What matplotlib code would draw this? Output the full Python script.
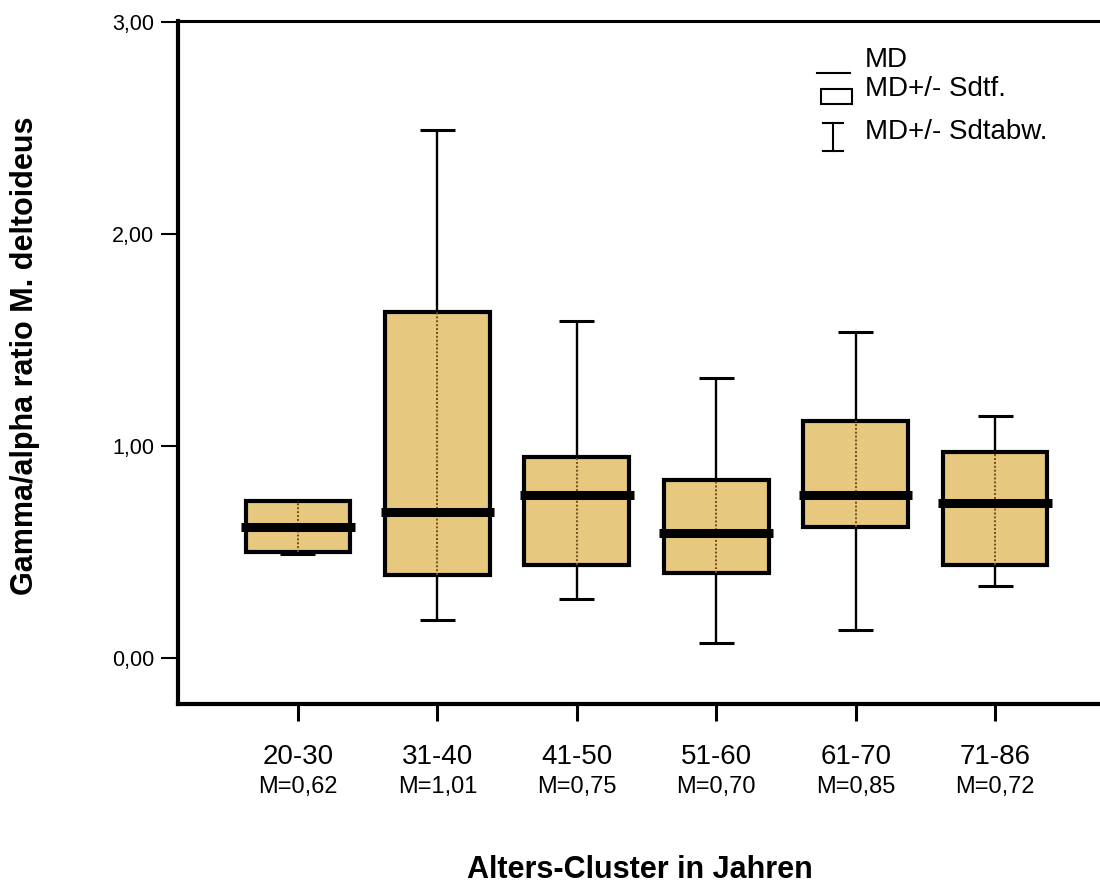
import matplotlib
matplotlib.use("Agg")
import matplotlib.pyplot as plt
from matplotlib.patches import Rectangle
from matplotlib.lines import Line2D

# ---------------- data ----------------
categories = ["20-30", "31-40", "41-50", "51-60", "61-70", "71-86"]
mean_labels = ["M=0,62", "M=1,01", "M=0,75", "M=0,70", "M=0,85", "M=0,72"]
center_line = [0.62, 0.69, 0.77, 0.59, 0.77, 0.73]      # MD
box_low = [0.50, 0.39, 0.44, 0.40, 0.62, 0.44]          # MD - Sdtf.
box_high = [0.74, 1.63, 0.95, 0.84, 1.12, 0.97]         # MD + Sdtf.
whisker_low = [0.49, 0.18, 0.28, 0.07, 0.13, 0.34]      # MD - Sdtabw.
whisker_high = [0.74, 2.49, 1.59, 1.32, 1.54, 1.14]     # MD + Sdtabw.
y_ticks = [0.0, 1.0, 2.0, 3.0]
y_tick_labels = ["0,00", "1,00", "2,00", "3,00"]
legend_labels = ["MD", "MD+/- Sdtf.", "MD+/- Sdtabw."]
x_label = "Alters-Cluster in Jahren"
y_label = "Gamma/alpha ratio M. deltoideus"

# ---------------- style ----------------
plt.rcParams["font.family"] = ["Liberation Sans", "DejaVu Sans"]
W, H = 1100, 883
fig = plt.figure(figsize=(W / 100, H / 100), dpi=100)
fig.patch.set_facecolor("white")

ax_l, ax_r, ax_t, ax_b = 178, 1115, 20.5, 704
ax = fig.add_axes([ax_l / W, 1 - ax_b / H, (ax_r - ax_l) / W, (ax_b - ax_t) / H])
ax.set_xlim(-0.86, 5.86)
ax.set_ylim(-0.217, 3.007)

fill_col = "#E6C87F"
dot_col = "#7A4A1C"
box_w = 0.75
med_w = 0.815
cap_w = 0.25

for i in range(len(categories)):
    ax.vlines(i, whisker_low[i], whisker_high[i], color="black", lw=1.7, zorder=1)
    ax.hlines([whisker_low[i], whisker_high[i]], i - cap_w / 2, i + cap_w / 2,
              color="black", lw=2.2, zorder=1)
    ax.add_patch(Rectangle((i - box_w / 2, box_low[i]), box_w, box_high[i] - box_low[i],
                           facecolor=fill_col, edgecolor="black", lw=3.0, zorder=2))
    ax.vlines(i, box_low[i], box_high[i], color=dot_col, lw=1.4,
              linestyles=(0, (1, 1)), zorder=3)
    ax.hlines(center_line[i], i - med_w / 2, i + med_w / 2, color="black",
              lw=6.5, zorder=4, capstyle="butt")

# spines
ax.spines["left"].set_linewidth(3.0)
ax.spines["bottom"].set_linewidth(3.0)
ax.spines["top"].set_linewidth(2.2)
ax.spines["right"].set_visible(False)

ax.set_yticks(y_ticks)
ax.set_yticklabels(y_tick_labels, fontsize=15.5)
ax.tick_params(axis="y", length=12, width=1.5, pad=5, color="black")
ax.set_xticks(range(len(categories)))
ax.set_xticklabels([""] * len(categories))
ax.tick_params(axis="x", length=12, width=2.2)

def ay(py):
    return (ax_b - py) / (ax_b - ax_t)

def axx(px):
    return (px - ax_l) / (ax_r - ax_l)

tr = ax.get_xaxis_transform()
for i, (c, m) in enumerate(zip(categories, mean_labels)):
    ax.text(i, ay(756.5), c, transform=tr, ha="center", va="center",
            fontsize=20, clip_on=False)
    ax.text(i, ay(787), m, transform=tr, ha="center", va="center",
            fontsize=17, clip_on=False)

# legend (drawn in axes fraction)
ta = ax.transAxes
ax.add_line(Line2D([axx(817), axx(850)], [ay(73), ay(73)], color="black", lw=1.5,
                   transform=ta, clip_on=False))
ax.add_patch(Rectangle((axx(821), ay(104)), axx(852) - axx(821), ay(89) - ay(104),
                       facecolor="white", edgecolor="black", lw=1.5, transform=ta))
ax.add_line(Line2D([axx(833), axx(833)], [ay(123), ay(151)], color="black", lw=1.5,
                   transform=ta))
for yy in (123, 151):
    ax.add_line(Line2D([axx(823), axx(843)], [ay(yy), ay(yy)], color="black", lw=1.5,
                       transform=ta))
for lab, yc in zip(legend_labels, (60, 89.5, 132)):
    ax.text(axx(865), ay(yc), lab, transform=ta, ha="left", va="center", fontsize=20)

fig.text(25 / W, 1 - 356 / H, y_label, rotation=90, ha="center", va="center",
         fontsize=22, fontweight="bold")
fig.text(640 / W, 1 - 870 / H, x_label, ha="center", va="center",
         fontsize=22, fontweight="bold")

fig.savefig("out.png", dpi=100, facecolor="white")
